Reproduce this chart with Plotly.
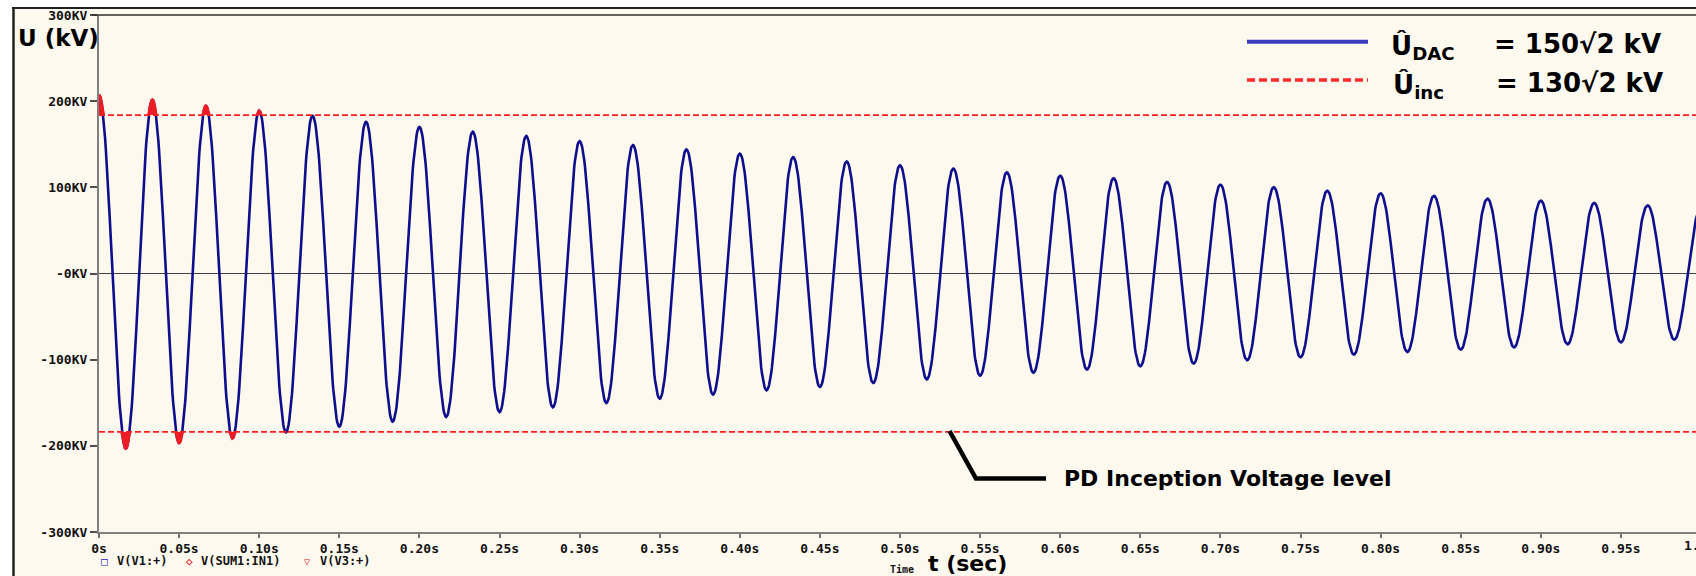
import numpy as np
import plotly.graph_objects as go

# ---------------- data ----------------
# times of successive extrema (s) and their values (kV)
ext_t = [0.0000, 0.0167, 0.0333, 0.0500, 0.0667, 0.0833, 0.1000, 0.1167, 0.1333, 0.1500,
         0.1667, 0.1833, 0.2000, 0.2167, 0.2333, 0.2500, 0.2667, 0.2833, 0.3000, 0.3167,
         0.3333, 0.3500, 0.3667, 0.3833, 0.4000, 0.4167, 0.4333, 0.4500, 0.4667, 0.4833,
         0.5000, 0.5167, 0.5333, 0.5500, 0.5667, 0.5833, 0.6000, 0.6167, 0.6333, 0.6500,
         0.6667, 0.6833, 0.7000, 0.7167, 0.7333, 0.7500, 0.7667, 0.7833, 0.8000, 0.8167,
         0.8333, 0.8500, 0.8667, 0.8833, 0.9000, 0.9167, 0.9333, 0.9500, 0.9667, 0.9833,
         1.0000]
ext_v = [207.0, -203.0, 201.5, -196.5, 194.5, -191.0, 188.7, -184.3, 183.0, -177.7,
         176.0, -171.9, 170.0, -166.5, 164.5, -160.7, 159.5, -155.3, 153.5, -150.3,
         149.0, -145.2, 144.0, -140.5, 139.0, -135.5, 135.0, -131.7, 130.0, -127.1,
         125.5, -122.8, 121.7, -118.5, 117.4, -115.0, 113.5, -111.5, 110.5, -107.7,
         106.2, -104.5, 103.0, -100.7, 100.0, -97.2, 96.0, -94.1, 93.0, -91.0,
         90.0, -88.3, 86.8, -85.6, 84.5, -82.1, 81.8, -79.8, 79.0, -76.7,
         76.0]
u_inc = 183.85  # 130*sqrt(2) kV, PD inception level

x_tickvals = [0.0, 0.05, 0.10, 0.15, 0.20, 0.25, 0.30, 0.35, 0.40, 0.45,
              0.50, 0.55, 0.60, 0.65, 0.70, 0.75, 0.80, 0.85, 0.90, 0.95]
x_ticktext = ["0s", "0.05s", "0.10s", "0.15s", "0.20s", "0.25s", "0.30s", "0.35s", "0.40s", "0.45s",
              "0.50s", "0.55s", "0.60s", "0.65s", "0.70s", "0.75s", "0.80s", "0.85s", "0.90s", "0.95s"]
y_tickvals = [-300, -200, -100, 0, 100, 200, 300]
y_ticktext = ["-300KV", "-200KV", "-100KV", "-0KV", "100KV", "200KV", "300KV"]

# ---------------- waveform: half-cosine between read extrema ----------------
tp, vp = [], []
n = len(ext_t)
for i in range(n - 1):
    s = np.linspace(0, 1, 41)
    if i < n - 2:
        s = s[:-1]
    a, b = ext_v[i], ext_v[i + 1]
    tp.append(ext_t[i] + s * (ext_t[i + 1] - ext_t[i]))
    vp.append((a + b) / 2 + (a - b) / 2 * np.cos(np.pi * s))
t = np.concatenate(tp)
v = np.concatenate(vp)

# red excursions beyond the inception level
rx, ry = [], []
for sign in (1, -1):
    idx = np.where(sign * v > u_inc)[0]
    if len(idx) == 0:
        continue
    runs = np.split(idx, np.where(np.diff(idx) > 1)[0] + 1)
    for r in runs:
        t0 = t[max(r[0] - 1, 0)]
        t1 = t[min(r[-1] + 1, len(t) - 1)]
        rx += [t0] + list(t[r]) + [t1, None]
        ry += [sign * u_inc] + list(v[r]) + [sign * u_inc, None]

# ---------------- geometry helpers ----------------
W, H = 1696, 576
L, R, T, B = 99, 0, 15, 44
PW, PH = W - L - R, H - T - B
XMAX = (W - L) / 1602.0


def px(x):
    return (x - L) / PW


def py(y):
    return (H - B - y) / PH


CREAM = "#FDF9EF"
BLUE = "#0E0E8C"
RED = "#FF1E1E"
SANS = "DejaVu Sans"
MONO = "DejaVu Sans Mono"

fig = go.Figure()
fig.add_trace(go.Scatter(x=t, y=v, mode="lines", line=dict(color=BLUE, width=2.6),
                         hoverinfo="skip", showlegend=False))
for sgn in (1, -1):
    fig.add_trace(go.Scatter(x=[0, 1.0], y=[sgn * u_inc, sgn * u_inc], mode="lines",
                             line=dict(color=RED, width=1.6, dash="6px,3px"),
                             hoverinfo="skip", showlegend=False))
fig.add_trace(go.Scatter(x=rx, y=ry, mode="lines", fill="toself", fillcolor="#EE1C24",
                         line=dict(color="#EE1C24", width=3), hoverinfo="skip",
                         showlegend=False))

tickfont = dict(family=MONO, size=13, color="#111111", weight="bold")

fig.update_xaxes(range=[0, XMAX], tickvals=x_tickvals, ticktext=x_ticktext,
                 ticks="outside", ticklen=4, tickcolor="#707070", tickwidth=1.5,
                 showline=True, linecolor="#808080", linewidth=1.5,
                 showgrid=False, zeroline=False, tickfont=tickfont, fixedrange=True)
fig.update_yaxes(range=[-300, 300], tickvals=y_tickvals, ticktext=y_ticktext,
                 ticks="outside", ticklen=7, tickcolor="#505050", tickwidth=1.5,
                 showline=True, linecolor="#808080", linewidth=2.2,
                 showgrid=False, zeroline=True, zerolinecolor="#404040", zerolinewidth=1.2,
                 tickfont=tickfont, fixedrange=True)

shapes = [
    # white outer strips
    dict(type="rect", xref="paper", yref="paper", x0=px(-20), x1=px(W + 20), y0=py(7.5), y1=py(-20),
         fillcolor="white", line=dict(width=0), layer="above"),
    dict(type="rect", xref="paper", yref="paper", x0=px(-20), x1=px(12.5), y0=py(H + 20), y1=py(-20),
         fillcolor="white", line=dict(width=0), layer="above"),
    # frame borders
    dict(type="line", xref="paper", yref="paper", x0=px(12), x1=px(W + 5), y0=py(8), y1=py(8),
         line=dict(color="#222222", width=2)),
    dict(type="line", xref="paper", yref="paper", x0=px(13.5), x1=px(13.5), y0=py(7), y1=py(H + 5),
         line=dict(color="#222222", width=2.5)),
    # plot top line
    dict(type="line", xref="paper", yref="paper", x0=px(92), x1=px(W + 5), y0=py(15), y1=py(15),
         line=dict(color="#303030", width=1.5)),
    # leader line for PD inception label
    dict(type="path", xref="paper", yref="paper",
         path=f"M {px(949.5)},{py(431)} L {px(976)},{py(478.5)} L {px(1046)},{py(478.5)}",
         line=dict(color="black", width=4.5)),
    # top-right legend lines
    dict(type="line", xref="paper", yref="paper", x0=px(1247), x1=px(1368), y0=py(41.7), y1=py(41.7),
         line=dict(color="#3C3CC0", width=4)),
    dict(type="line", xref="paper", yref="paper", x0=px(1247), x1=px(1368), y0=py(80), y1=py(80),
         line=dict(color="#FF2A2A", width=3.5, dash="8px,4px")),
]

bold_sans = lambda s: dict(family=SANS, size=s, color="black", weight="bold")
bold_mono = lambda s, c="#111111": dict(family=MONO, size=s, color=c, weight="bold")

ann = [
    dict(text="U (kV)", x=px(16), y=py(38), xanchor="left", yanchor="middle", font=bold_sans(23)),
    dict(text="t (sec)", x=px(926), y=py(563), xanchor="left", yanchor="middle", font=bold_sans(22)),
    dict(text="Time", x=px(916), y=py(569), xanchor="right", yanchor="middle", font=bold_mono(10)),
    dict(text="1.00s", x=px(1703), y=py(545), xanchor="center", yanchor="middle", font=bold_mono(13)),
    dict(text="□", x=px(104.5), y=py(561), xanchor="center", yanchor="middle", font=bold_mono(11, "#2020C0")),
    dict(text="V(V1:+)", x=px(115), y=py(561), xanchor="left", yanchor="middle", font=bold_mono(12)),
    dict(text="◇", x=px(189), y=py(561), xanchor="center", yanchor="middle", font=bold_mono(11, "#E02020")),
    dict(text="V(SUM1:IN1)", x=px(199), y=py(561), xanchor="left", yanchor="middle", font=bold_mono(12)),
    dict(text="▽", x=px(307), y=py(561), xanchor="center", yanchor="middle", font=bold_mono(10, "#E02020")),
    dict(text="V(V3:+)", x=px(318), y=py(561), xanchor="left", yanchor="middle", font=bold_mono(12)),
    dict(text="Û<sub>DAC</sub>", x=px(1389), y=py(47), xanchor="left", yanchor="middle", font=bold_sans(26)),
    dict(text="= 150√2 kV", x=px(1492), y=py(44), xanchor="left", yanchor="middle", font=bold_sans(26)),
    dict(text="Û<sub>inc</sub>", x=px(1391), y=py(86), xanchor="left", yanchor="middle", font=bold_sans(26)),
    dict(text="= 130√2 kV", x=px(1494), y=py(83), xanchor="left", yanchor="middle", font=bold_sans(26)),
    dict(text="PD Inception Voltage level", x=px(1062), y=py(478), xanchor="left", yanchor="middle",
         font=bold_sans(22)),
]
for a in ann:
    a.update(xref="paper", yref="paper", showarrow=False)

fig.update_layout(width=W, height=H, margin=dict(l=L, r=R, t=T, b=B, pad=0),
                  paper_bgcolor=CREAM, plot_bgcolor=CREAM, showlegend=False,
                  shapes=shapes, annotations=ann)

fig.write_html("out.html", config={"displayModeBar": False})
